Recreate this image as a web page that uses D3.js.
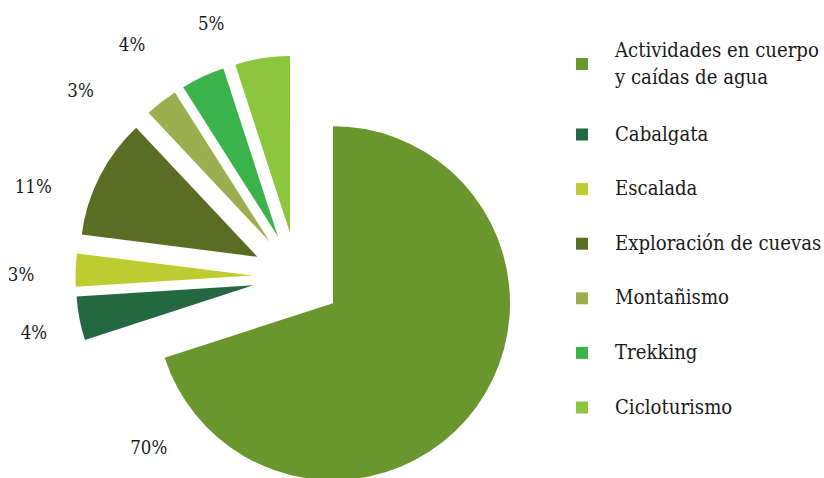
<!DOCTYPE html>
<html>
<head>
<meta charset="utf-8">
<script src="https://cdn.jsdelivr.net/npm/d3@7"></script>
<style>
  html, body { margin: 0; padding: 0; background: #fff; }
  svg { display: block; }
  text { font-family: "DejaVu Serif Condensed", "DejaVu Serif", serif; font-stretch: condensed; }
</style>
</head>
<body>
<svg id="chart" width="824" height="478"></svg>
<script>
// Tourism activities share (%)
const categories = [
  "Actividades en cuerpo y caídas de agua",
  "Cabalgata",
  "Escalada",
  "Exploración de cuevas",
  "Montañismo",
  "Trekking",
  "Cicloturismo"
];
const values = [70, 4, 3, 11, 3, 4, 5];
const colors = ["#69962D", "#236841", "#BECC32", "#5A6E23", "#9BAF50", "#3AB44A", "#8CC63F"];
const legendLines = [
  ["Actividades en cuerpo", "y caídas de agua"],
  ["Cabalgata"],
  ["Escalada"],
  ["Exploración de cuevas"],
  ["Montañismo"],
  ["Trekking"],
  ["Cicloturismo"]
];

// Label placement around the pie: angle (deg, clockwise from top) and distance from centre
const labelPlacement = [
  [221, 226], [258, 269], [270.6, 276], [289, 279], [310.8, 286], [324.7, 285.5], [341.3, 268]
];

const svg = d3.select("#chart");
const cx = 297, cy = 277, radius = 177, explode = 44.5;

// Font size that makes a sample string span a target width
function fitSize(sample, width, base) {
  const t = svg.append("text").attr("font-size", base).text(sample);
  const w = t.node().getComputedTextLength();
  t.remove();
  return base * width / w;
}
const pctSize = fitSize("70%", 37, 20);
const legSize = fitSize("Actividades en cuerpo", 204, 20);

const pie = d3.pie().sort(null).value(d => d)(values);
const arc = d3.arc().innerRadius(0).outerRadius(radius);

const g = svg.append("g").attr("transform", `translate(${cx},${cy})`);

g.selectAll("path.slice")
  .data(pie)
  .join("path")
  .attr("class", "slice")
  .attr("fill", (d, i) => colors[i])
  .attr("transform", d => {
    const mid = (d.startAngle + d.endAngle) / 2;
    return `translate(${explode * Math.sin(mid)},${-explode * Math.cos(mid)})`;
  })
  .attr("d", arc);

g.selectAll("text.pct")
  .data(pie)
  .join("text")
  .attr("class", "pct")
  .attr("x", (d, i) => labelPlacement[i][1] * Math.sin(labelPlacement[i][0] * Math.PI / 180))
  .attr("y", (d, i) => -labelPlacement[i][1] * Math.cos(labelPlacement[i][0] * Math.PI / 180))
  .attr("text-anchor", "middle")
  .attr("dominant-baseline", "central")
  .attr("font-size", pctSize)
  .attr("fill", "#1a1a1a")
  .text(d => d.data + "%");

// Legend
const legendY = d3.scalePoint().domain(d3.range(categories.length)).range([134.5 - 54.6, 407.5]);
const legend = svg.append("g");
const items = legend.selectAll("g.item")
  .data(categories)
  .join("g")
  .attr("class", "item")
  .attr("transform", (d, i) => `translate(576,${i === 0 ? 64 : legendY(i)})`);

items.append("rect")
  .attr("x", 0).attr("y", -6)
  .attr("width", 12).attr("height", 12)
  .attr("fill", (d, i) => colors[i]);

items.append("text")
  .attr("class", "leg")
  .attr("x", 39)
  .attr("font-size", legSize)
  .attr("fill", "#1a1a1a")
  .each(function (d, i) {
    const lines = legendLines[i];
    const t = d3.select(this);
    const lh = 27;
    const start = -((lines.length - 1) * lh) / 2;
    lines.forEach((ln, k) => {
      t.append("tspan")
        .attr("x", 39)
        .attr("y", start + k * lh - 1)
        .attr("dominant-baseline", "central")
        .text(ln);
    });
  });
</script>
</body>
</html>
